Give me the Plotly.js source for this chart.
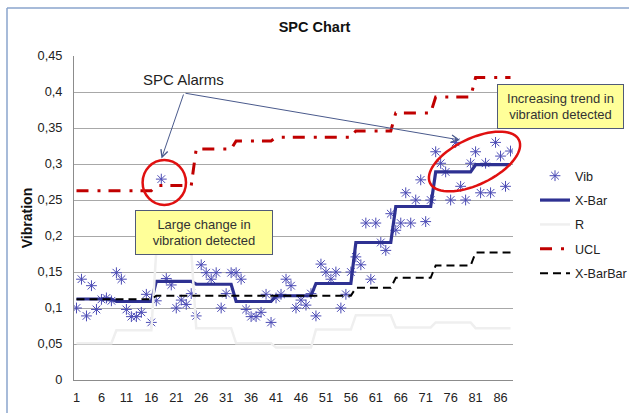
<!DOCTYPE html>
<html><head><meta charset="utf-8">
<script src="https://cdn.plot.ly/plotly-3.0.1.min.js"></script>
<style>html,body{margin:0;padding:0;background:#fff}#chart{width:629px;height:413px}</style>
</head><body><div id="chart"></div>
<script>
// ---- data ----
const subgroupSize = 8;
const sampleNo = Array.from({length: 88}, (_, i) => i + 1);
const vib = [
  0.100, 0.140, 0.089, 0.131, 0.098, 0.112, 0.114, 0.110,
  0.149, 0.140, 0.098, 0.088, 0.088, 0.094, 0.119, 0.080,
  0.110, 0.279, 0.141, 0.132, 0.100, 0.111, 0.105, 0.120,
  0.089, 0.160, 0.149, 0.140, 0.149, 0.100, 0.120, 0.149,
  0.149, 0.140, 0.098, 0.088, 0.088, 0.094, 0.119, 0.080,
  0.114, 0.119, 0.140, 0.131, 0.100, 0.111, 0.104, 0.120,
  0.089, 0.161, 0.150, 0.140, 0.150, 0.100, 0.119, 0.150,
  0.171, 0.160, 0.218, 0.140, 0.218, 0.191, 0.180, 0.231,
  0.208, 0.218, 0.260, 0.218, 0.250, 0.278, 0.220, 0.250,
  0.317, 0.301, 0.289, 0.250, 0.330, 0.269, 0.250, 0.301,
  0.317, 0.260, 0.301, 0.260, 0.330, 0.311, 0.269, 0.318
];
const subgroupXBar    = [0.1125, 0.109, 0.137, 0.133, 0.109, 0.117, 0.134, 0.191, 0.241, 0.289, 0.299];
const subgroupR       = [0.051, 0.069, 0.180, 0.072, 0.051, 0.045, 0.070, 0.090, 0.073, 0.080, 0.072];
const subgroupUCL     = [0.263, 0.263, 0.270, 0.321, 0.332, 0.337, 0.337, 0.346, 0.371, 0.393, 0.420];
const subgroupXBarBar = [0.112, 0.112, 0.117, 0.117, 0.117, 0.117, 0.117, 0.128, 0.142, 0.159, 0.177];
const xTickVals = [1, 6, 11, 16, 21, 26, 31, 36, 41, 46, 51, 56, 61, 66, 71, 76, 81, 86];
const yTickVals = [0, 0.05, 0.1, 0.15, 0.2, 0.25, 0.3, 0.35, 0.4, 0.45];
const yTickText = ['0', '0,05', '0,1', '0,15', '0,2', '0,25', '0,3', '0,35', '0,4', '0,45'];

// each subgroup value holds for all samples of that subgroup
const perSample = arr => sampleNo.map(n => arr[Math.floor((n - 1) / subgroupSize)]);

// ---- plot geometry (pixels) for decorations ----
const PL = 74, PR = 513, PT = 56, PB = 380;
const fx = px => (px - PL) / (PR - PL);
const fy = py => (PB - py) / (PB - PT);

function ellipsePath(cx, cy, a, b, deg) {
  const th = deg * Math.PI / 180;
  const ux = Math.cos(th), uy = -Math.sin(th), vx = Math.sin(th), vy = Math.cos(th);
  let d = '';
  for (let k = 0; k <= 72; k++) {
    const t = k / 72 * 2 * Math.PI;
    const px = cx + a * Math.cos(t) * ux + b * Math.sin(t) * vx;
    const py = cy + a * Math.cos(t) * uy + b * Math.sin(t) * vy;
    d += (k === 0 ? 'M' : 'L') + fx(px).toFixed(5) + ',' + fy(py).toFixed(5);
  }
  return d + 'Z';
}

const FONT = 'Liberation Sans, Arial, sans-serif';

const traces = [
  {x: sampleNo, y: vib, name: 'Vib', type: 'scatter', mode: 'markers',
   marker: {symbol: 'asterisk-open', size: 9, color: '#4b4bb5', line: {color: '#4b4bb5', width: 1}},
   legendgroup: 'a'},
  {x: sampleNo, y: perSample(subgroupXBar), name: 'X-Bar', type: 'scatter', mode: 'lines',
   line: {color: '#2e3192', width: 3.2}, legendgroup: 'b'},
  {x: sampleNo, y: perSample(subgroupR), name: 'R', type: 'scatter', mode: 'lines',
   line: {color: '#efefef', width: 2.5}, legendgroup: 'c'},
  {x: sampleNo, y: perSample(subgroupUCL), name: 'UCL', type: 'scatter', mode: 'lines',
   line: {color: '#c00000', width: 3, dash: '12px,9px,3px,8px'}, legendgroup: 'd'},
  {x: sampleNo, y: perSample(subgroupXBarBar), name: 'X-BarBar', type: 'scatter', mode: 'lines',
   line: {color: '#000000', width: 2, dash: '8px,5px'}, legendgroup: 'e'}
];

const layout = {
  width: 629, height: 413,
  margin: {l: 74, r: 116, t: 56, b: 33, autoexpand: false},
  paper_bgcolor: '#ffffff', plot_bgcolor: '#ffffff',
  font: {family: FONT, size: 13, color: '#222'},
  showlegend: true,
  title: {text: '<b>SPC Chart</b>', x: 0.5, xref: 'container', y: 1 - 27 / 413, yref: 'container',
          yanchor: 'middle', font: {size: 14.5, color: '#111'}},
  xaxis: {range: [0.5, 88.5], tickvals: xTickVals, ticktext: xTickVals.map(String),
          showgrid: false, showline: true, linecolor: '#8c8c8c', linewidth: 1, ticks: '',
          zeroline: false, ticklabelstandoff: 6, tickfont: {size: 12.8, color: '#222'}},
  yaxis: {range: [0, 0.45], tickvals: yTickVals, ticktext: yTickText,
          showgrid: true, gridcolor: '#a8a8a8', gridwidth: 1, showline: true, linecolor: '#8c8c8c',
          ticks: '', zeroline: false, ticklabelstandoff: 8, tickfont: {size: 12.8, color: '#222'},
          title: {text: '<b>Vibration</b>', font: {size: 14, color: '#111'}, standoff: 1}},
  legend: {x: fx(535), xanchor: 'left', y: fy(161), yanchor: 'top', font: {size: 12.6, color: '#222'},
           tracegroupgap: 5, traceorder: 'grouped', bgcolor: 'rgba(0,0,0,0)'},
  shapes: [
    {type: 'line', xref: 'paper', yref: 'paper', x0: fx(7), x1: fx(640), y0: fy(8), y1: fy(8),
     line: {color: '#8aa4cc', width: 1.5}},
    {type: 'line', xref: 'paper', yref: 'paper', x0: fx(7), x1: fx(7), y0: fy(8), y1: fy(420),
     line: {color: '#8aa4cc', width: 1.5}},
    {type: 'circle', xref: 'paper', yref: 'paper', x0: fx(142.6), x1: fx(186), y0: fy(205), y1: fy(160),
     line: {color: '#e01010', width: 2.5}},
    {type: 'path', xref: 'paper', yref: 'paper', path: ellipsePath(474.5, 161.5, 49.4, 23, 25.8),
     line: {color: '#e01010', width: 2.5}}
  ],
  annotations: [
    {xref: 'paper', yref: 'paper', x: fx(183.3), y: fy(79), text: 'SPC Alarms', showarrow: false,
     xanchor: 'center', yanchor: 'middle', font: {size: 15, color: '#222'}},
    {xref: 'paper', yref: 'paper', x: fx(161.5), y: fy(158.5), ax: 22.5, ay: -65.5, text: '',
     showarrow: true, arrowhead: 5, arrowsize: 1.4, arrowwidth: 1, arrowcolor: '#4a5a8c', standoff: 0},
    {xref: 'paper', yref: 'paper', x: fx(460), y: fy(140), ax: -276, ay: -47, text: '',
     showarrow: true, arrowhead: 5, arrowsize: 1.4, arrowwidth: 1, arrowcolor: '#4a5a8c', standoff: 0},
    {xref: 'paper', yref: 'paper', x: fx(203.8), y: fy(232.5), xanchor: 'center', yanchor: 'middle',
     text: 'Large change in<br>vibration detected', showarrow: false, width: 136, height: 43,
     bgcolor: '#ffff99', bordercolor: '#505a78', borderwidth: 1, borderpad: 0, align: 'center',
     font: {size: 13, color: '#333'}},
    {xref: 'paper', yref: 'paper', x: fx(560.8), y: fy(106.7), xanchor: 'center', yanchor: 'middle',
     text: 'Increasing trend in<br>vibration detected', showarrow: false, width: 125, height: 43,
     bgcolor: '#ffff99', bordercolor: '#505a78', borderwidth: 1, borderpad: 0, align: 'center',
     font: {size: 13, color: '#333'}}
  ]
};

Plotly.newPlot('chart', traces, layout, {displayModeBar: false, staticPlot: true});
</script>
</body></html>
